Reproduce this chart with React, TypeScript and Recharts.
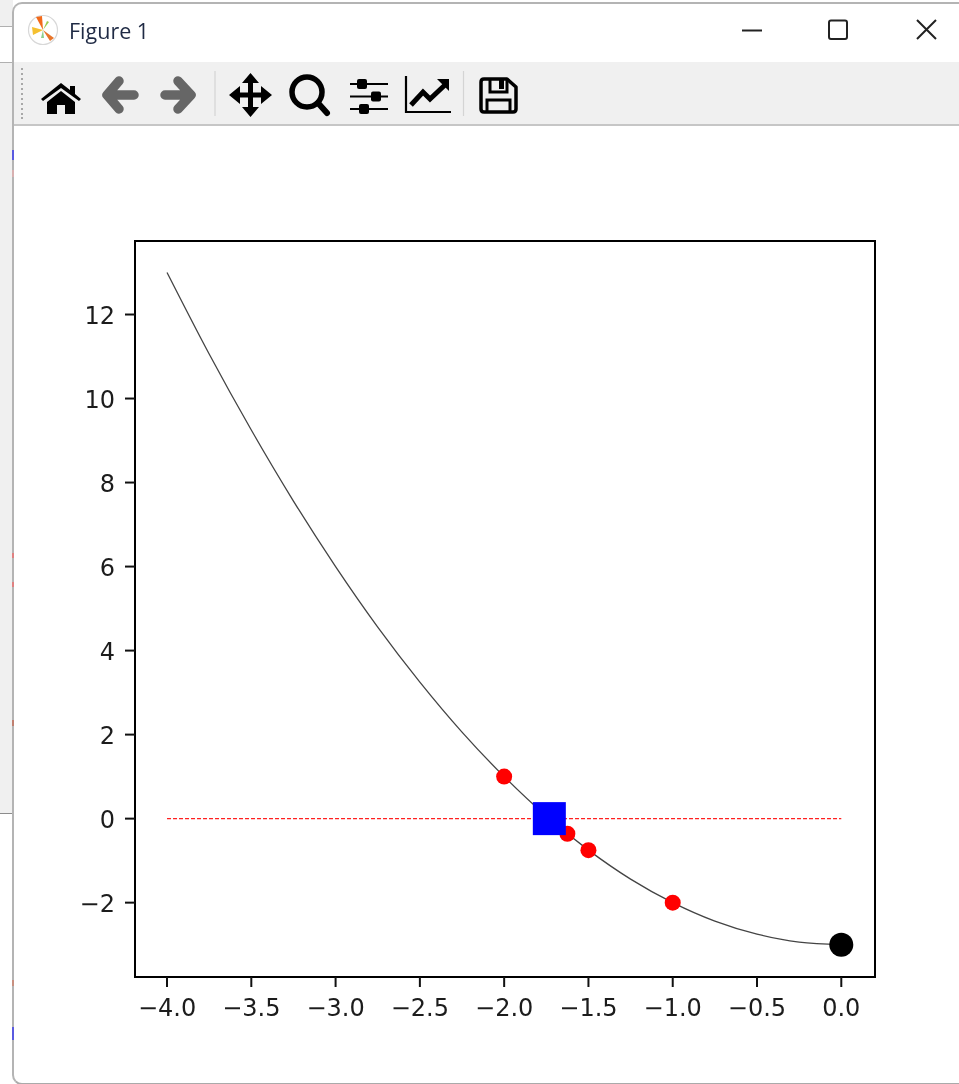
import { ComposedChart, Line, XAxis, YAxis, ReferenceArea } from 'recharts';

// curve
const curveX = [-4, -3.75, -3.5, -3.25, -3, -2.75, -2.5, -2.25, -2, -1.75, -1.5, -1.25, -1, -0.75, -0.5, -0.25, 0];
const curveY = [13, 11.06, 9.25, 7.56, 6, 4.56, 3.25, 2.06, 1, 0.06, -0.75, -1.44, -2, -2.44, -2.75, -2.94, -3];

const zeroX = [-4, 0];
const zeroY = [0, 0];

const redX = [-2, -1.625, -1.5, -1];
const redY = [1, -0.36, -0.75, -2];

const rootX = [-1.732];
const rootY = [0];

const startX = [0];
const startY = [-3];

const xTicks = [-4, -3.5, -3, -2.5, -2, -1.5, -1, -0.5, 0];
const yTicks = [-2, 0, 2, 4, 6, 8, 10, 12];

const xDomain = [-4.19, 0.2];
const yDomain = [-3.77, 13.75];

const zip = (xs: number[], ys: number[]) => xs.map((x, i) => ({ x, y: ys[i] }));

const minus = (v: number) => String(v).replace('-', '\u2212');
const xFmt = (v: number) => minus(v).includes('.') ? minus(v) : minus(v) + '.0';

const tickStyle = { fontFamily: '"DejaVu Sans"', fontSize: 24, fill: '#1c1c1c' };
const axisLine = { stroke: '#000', strokeWidth: 2 };
const tickLine = { stroke: '#111', strokeWidth: 2 };

const RedDot = (p: any) => <circle key={p.index} cx={p.cx} cy={p.cy} r={8} fill="#ff0000" />;
const BlackDot = (p: any) => <circle key={p.index} cx={p.cx} cy={p.cy} r={12} fill="#000" />;
const BlueSquare = (p: any) => <rect key={p.index} x={p.cx - 16.5} y={p.cy - 16.5} width={33} height={33} fill="#0000ff" />;

// bits of whatever sits behind the window, showing on its left edge
const edgeSpecks = [
  { y: 150, h: 10, c: '#5a5ae0' },
  { y: 170, h: 7, c: '#d8b0b0' },
  { y: 553, h: 5, c: '#e08080' },
  { y: 582, h: 5, c: '#e08080' },
  { y: 720, h: 6, c: '#c08070' },
  { y: 980, h: 6, c: '#c89080' },
  { y: 1027, h: 13, c: '#5a5ae0' },
];

function Toolbar() {
  const grip = [69, 74, 79, 84, 89, 94, 99, 104, 109, 114, 118];
  return (
    <svg width={959} height={135} style={{ position: 'absolute', left: 0, top: 0 }}>
      {/* title icon */}
      <circle cx={43} cy={30} r={14.5} fill="#fff" stroke="#d8d8d8" strokeWidth={1.2} />
      <path d="M32 27 L43 30 L33 35 Z" fill="#f5c030" />
      <path d="M36 17 L43 30 L42 16 Z" fill="#f26a1b" />
      <path d="M43 30 L54 38 L50 41 Z" fill="#e8752a" />
      <path d="M43 30 L47 21 L49 22 Z" fill="#9ccc50" />
      <path d="M43 30 L41 38 L44 38 Z" fill="#8ed08e" />
      <text x={69} y={39} fontFamily="'Open Sans'" fontSize={21.5} fill="#1f2a44">Figure 1</text>

      {/* window buttons */}
      <path d="M742 30.5 H762" stroke="#222" strokeWidth={2} />
      <rect x={829} y={20.5} width={18} height={18.5} rx={2} fill="none" stroke="#222" strokeWidth={2} />
      <path d="M917 20 L936 39 M936 20 L917 39" stroke="#222" strokeWidth={2} />

      {/* toolbar */}
      {grip.map((y) => <rect key={y} x={21} y={y - 1} width={2} height={2} fill="#a8a8a8" />)}
      <path d="M61 83 L41 99 L43 101 L61 88 L79 101 L81 99 L75 94 V86 H70 V90 Z" fill="#000" />
      <path d="M61 91 L47 102 V114 H57 V105 H65 V114 H75 V102 Z" fill="#000" />
      <path d="M119 81 L107 95 L119 109 M109 95 H134" fill="none" stroke="#666" strokeWidth={9.5} strokeLinecap="round" strokeLinejoin="round" />
      <path d="M178 81 L191 95 L178 109 M189 95 H165" fill="none" stroke="#666" strokeWidth={9.5} strokeLinecap="round" strokeLinejoin="round" />
      <path d="M215 71 V116 M463.5 71 V116" stroke="#d4d4d4" strokeWidth={1.2} />
      <path d="M250.5 80 V110 M234 95 H267" stroke="#000" strokeWidth={5} />
      <path d="M250.5 73 L259 83 H242 Z M250.5 117 L259 107 H242 Z M229 95 L240 86 V104 Z M272 95 L261 86 V104 Z" fill="#000" />
      <circle cx={307} cy={92} r={15} fill="none" stroke="#000" strokeWidth={5.5} />
      <path d="M318 103 L327 113" stroke="#000" strokeWidth={6} strokeLinecap="round" />
      <path d="M350 84 H388 M350 96.5 H388 M350 109 H388" stroke="#000" strokeWidth={2.2} />
      <rect x={357} y={79} width={10} height={10} rx={2} fill="#000" />
      <rect x={371} y={91.5} width={10} height={10} rx={2} fill="#000" />
      <rect x={359} y={104} width={10} height={10} rx={2} fill="#000" />
      <path d="M406 76 V112 H451" fill="none" stroke="#000" strokeWidth={2.2} />
      <path d="M411 105 L423 92 L430 99 L446 84" fill="none" stroke="#000" strokeWidth={5} />
      <path d="M437 79 H449 V91 Z" fill="#000" />
      <path d="M484 79 H507 L516 87 V109 Q516 112 513 112 H484 Q481 112 481 109 V82 Q481 79 484 79 Z" fill="none" stroke="#000" strokeWidth={3.5} strokeLinejoin="round" />
      <path d="M490 79 V92 H507 V79" fill="none" stroke="#000" strokeWidth={3} />
      <rect x={499} y={80} width={5} height={9} fill="#000" />
      <path d="M487 112 V100 H510 V112" fill="none" stroke="#000" strokeWidth={3} />
    </svg>
  );
}

export default function App() {
  return (
    <div style={{ position: 'absolute', left: 0, top: 0, width: 959, height: 1084, overflow: 'hidden', background: '#fff', filter: 'blur(0.45px)' }}>
      {/* desktop behind the window */}
      <div style={{ position: 'absolute', left: 0, top: 62, width: 13, height: 751, background: '#f0f0f0' }} />
      <div style={{ position: 'absolute', left: 0, top: 0, width: 13, height: 26, background: '#f0f0f0' }} />
      <div style={{ position: 'absolute', left: 0, top: 26, width: 13, height: 1, background: '#b0b0b0' }} />
      <div style={{ position: 'absolute', left: 0, top: 62, width: 13, height: 1, background: '#b0b0b0' }} />
      <div style={{ position: 'absolute', left: 0, top: 813, width: 13, height: 1, background: '#8c8c8c' }} />
      {/* window */}
      <div style={{ position: 'absolute', left: 12, top: 2, width: 960, height: 1079, background: '#fff', borderTop: '2px solid #b4b4b4', borderLeft: '2px solid #b4b4b4', borderBottom: '2px solid #aaa', borderRadius: '10px 0 0 10px' }} />
      {edgeSpecks.map((s) => <div key={s.y} style={{ position: 'absolute', left: 12, top: s.y, width: 2, height: s.h, background: s.c }} />)}
      <div style={{ position: 'absolute', left: 14, top: 62, width: 945, height: 62, background: '#f0f0f0', borderBottom: '2px solid #c6c6c6' }} />
      <Toolbar />
      <div style={{ position: 'absolute', left: 0, top: 0 }}>
        <ComposedChart width={959} height={1084} margin={{ left: 75, right: 84, top: 241, bottom: 57 }}>
          <XAxis type="number" dataKey="x" domain={xDomain} ticks={xTicks} interval={0} allowDataOverflow height={50}
            tickFormatter={xFmt} tick={tickStyle} tickSize={10} tickMargin={12} axisLine={axisLine} tickLine={tickLine} />
          <YAxis type="number" dataKey="y" domain={yDomain} ticks={yTicks} interval={0} allowDataOverflow width={60}
            tickFormatter={minus} tick={{ ...tickStyle, dy: 1 }} tickSize={10} tickMargin={10} axisLine={axisLine} tickLine={tickLine} />
          <ReferenceArea x1={xDomain[0]} x2={xDomain[1]} y1={yDomain[0]} y2={yDomain[1]} fill="none" fillOpacity={0} stroke="#000" strokeWidth={2} strokeOpacity={1} />
          <Line data={zip(curveX, curveY)} dataKey="y" type="monotone" stroke="#444" strokeWidth={1.3} dot={false} isAnimationActive={false} />
          <Line data={zip(zeroX, zeroY)} dataKey="y" type="linear" stroke="#ff2020" strokeWidth={1.1} strokeDasharray="4 2" dot={false} isAnimationActive={false} />
          <Line data={zip(redX, redY)} dataKey="y" stroke="none" dot={RedDot} activeDot={false} isAnimationActive={false} />
          <Line data={zip(startX, startY)} dataKey="y" stroke="none" dot={BlackDot} activeDot={false} isAnimationActive={false} />
          <Line data={zip(rootX, rootY)} dataKey="y" stroke="none" dot={BlueSquare} activeDot={false} isAnimationActive={false} />
        </ComposedChart>
      </div>
    </div>
  );
}
